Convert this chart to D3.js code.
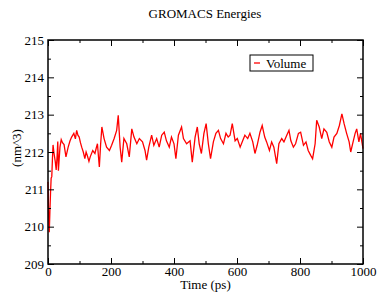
<!DOCTYPE html>
<html>
<head>
<meta charset="utf-8">
<script src="https://cdn.jsdelivr.net/npm/d3@7"></script>
<style>
  body { margin: 0; background: #fff; }
</style>
</head>
<body>
<div id="chart"></div>
<script>
var serif = '"Liberation Serif", "Times New Roman", serif'

// data (time in ps, volume in nm^3)
var times = [0, 2, 4, 6, 8, 10, 12, 14, 16, 19, 23, 26, 29, 31, 33, 38, 42, 46, 51, 57, 64, 70, 75, 82, 87, 91, 95, 99,
  103, 107, 112, 117, 121, 125, 130, 134, 142, 149, 153, 157, 160, 163, 167, 171, 178, 186, 195, 202, 210, 218, 223,
  229, 234, 241, 250, 258, 266, 273, 282, 290, 300, 308, 313, 320, 329, 336, 345, 353, 361, 369, 376, 385, 392, 400,
  406, 414, 424, 430, 440, 451, 458, 467, 474, 480, 487, 495, 502, 509, 516, 525, 533, 541, 548, 557, 565, 572, 578,
  585, 594, 601, 610, 618, 625, 634, 641, 650, 657, 664, 673, 680, 688, 694, 703, 710, 717, 726, 733, 742, 749, 758,
  765, 771, 779, 786, 795, 802, 811, 819, 826, 834, 840, 848, 853, 861, 869, 876, 885, 893, 901, 908, 917, 925, 933,
  940, 948, 956, 961, 967, 975, 980, 987, 992, 1000]
var volume = [211.2, 210.3, 209.85, 210.4, 210.9, 211.3, 211.34, 211.79, 212.19, 211.97, 211.75, 211.52, 211.9, 212.28,
  211.5, 212.13, 212.33, 212.25, 212.2, 211.87, 212.13, 212.3, 212.4, 212.5, 212.35, 212.58, 212.45, 212.4,
  212.25, 212.13, 212.0, 211.82, 212.0, 211.9, 211.75, 211.87, 212.04, 211.96, 212.1, 212.22, 211.9, 211.6, 212.2,
  212.67, 212.36, 212.13, 212.04, 212.18, 212.36, 212.58, 212.98, 212.13, 211.73, 212.36, 212.22, 211.87, 212.62,
  212.4, 212.22, 212.36, 212.27, 212.04, 211.78, 212.13, 212.45, 212.18, 212.36, 212.13, 212.45, 212.53, 212.3,
  212.13, 212.4, 212.22, 211.82, 212.45, 212.67, 212.36, 212.22, 212.3, 211.73, 212.4, 212.67, 212.22, 211.96,
  212.5, 212.76, 212.22, 211.82, 212.27, 212.5, 212.58, 212.36, 212.22, 212.5, 212.4, 212.45, 212.76, 212.3,
  212.36, 212.13, 212.3, 212.45, 212.36, 212.5, 212.27, 211.96, 212.18, 212.53, 212.71, 212.4, 212.27, 212.04,
  212.27, 212.13, 211.69, 212.22, 212.36, 212.27, 212.45, 212.58, 212.3, 212.13, 212.22, 212.5, 212.53, 212.18,
  212.27, 212.04, 211.91, 211.82, 212.22, 212.85, 212.67, 212.36, 212.62, 212.53, 212.27, 212.13, 212.4, 212.5,
  212.71, 213.02, 212.76, 212.5, 212.27, 212.0, 212.22, 212.5, 212.62, 212.27, 212.5, 212.09]
var xTicks = [0, 200, 400, 600, 800, 1000]
var yTicks = [209, 210, 211, 212, 213, 214, 215]

var margin = { top: 40, left: 48, right: 14, bottom: 28 }
var width = 377 - margin.left - margin.right
var height = 292 - margin.top - margin.bottom

var svg = d3.select('#chart')
  .append('svg')
  .attr('width', 377)
  .attr('height', 292)

var g = svg.append('g')
  .attr('transform', 'translate(' + margin.left + ',' + margin.top + ')')

var x = d3.scaleLinear().domain([0, 1000]).range([0, width])
var y = d3.scaleLinear().domain([209, 215]).range([height, 0])

var points = times.map((t, i) => ({ t: t, v: volume[i] }))

var line = d3.line()
  .x(d => x(d.t))
  .y(d => y(d.v))

g.append('path')
  .datum(points)
  .attr('fill', 'none')
  .attr('stroke', '#ff0000')
  .attr('stroke-width', 1.3)
  .attr('d', line)

// minor ticks
var xMinor = d3.range(100, 1000, 200)
var yMinor = d3.range(209.5, 215, 1)

function drawAxis(axis, transform, labels) {
  var a = g.append('g').attr('transform', transform).call(axis)
  a.attr('font-family', serif).attr('font-size', 13)
  a.select('.domain').remove()
  a.selectAll('line').attr('stroke', '#000').attr('stroke-width', 1)
  a.selectAll('text').attr('fill', '#000')
  if (!labels) a.selectAll('text').remove()
  return a
}

drawAxis(d3.axisBottom(x).tickValues(xTicks).tickSize(-6).tickPadding(3).tickFormat(d3.format('d')),
  'translate(0,' + height + ')', true)
drawAxis(d3.axisBottom(x).tickValues(xMinor).tickSize(-3), 'translate(0,' + height + ')', false)
drawAxis(d3.axisTop(x).tickValues(xTicks).tickSize(-6), 'translate(0,0)', false)
drawAxis(d3.axisTop(x).tickValues(xMinor).tickSize(-3), 'translate(0,0)', false)
drawAxis(d3.axisLeft(y).tickValues(yTicks).tickSize(-6).tickPadding(4).tickFormat(d3.format('d')),
  'translate(0,0)', true)
drawAxis(d3.axisLeft(y).tickValues(yMinor).tickSize(-3), 'translate(0,0)', false)
drawAxis(d3.axisRight(y).tickValues(yTicks).tickSize(-6), 'translate(' + width + ',0)', false)
drawAxis(d3.axisRight(y).tickValues(yMinor).tickSize(-3), 'translate(' + width + ',0)', false)

// frame
g.append('rect')
  .attr('width', width)
  .attr('height', height)
  .attr('fill', 'none')
  .attr('stroke', '#000')
  .attr('stroke-width', 1.5)

// title and axis labels
svg.append('text')
  .attr('x', 205)
  .attr('y', 18)
  .attr('text-anchor', 'middle')
  .attr('font-family', serif)
  .attr('font-size', 13)
  .text('GROMACS Energies')

svg.append('text')
  .attr('x', margin.left + width / 2)
  .attr('y', 289)
  .attr('text-anchor', 'middle')
  .attr('font-family', serif)
  .attr('font-size', 13)
  .text('Time (ps)')

svg.append('text')
  .attr('transform', 'translate(21,' + (margin.top + height / 2 - 4) + ') rotate(-90)')
  .attr('text-anchor', 'middle')
  .attr('font-family', serif)
  .attr('font-size', 13)
  .text('(nm^3)')

// legend
var legend = svg.append('g').attr('transform', 'translate(250,55)')
legend.append('rect')
  .attr('width', 63)
  .attr('height', 16)
  .attr('fill', '#fff')
  .attr('stroke', '#000')
  .attr('stroke-width', 1)
legend.append('line')
  .attr('x1', 4).attr('x2', 10)
  .attr('y1', 8).attr('y2', 8)
  .attr('stroke', '#ff0000')
  .attr('stroke-width', 1.3)
legend.append('text')
  .attr('x', 16)
  .attr('y', 12.5)
  .attr('font-family', serif)
  .attr('font-size', 13)
  .text('Volume')
</script>
</body>
</html>
